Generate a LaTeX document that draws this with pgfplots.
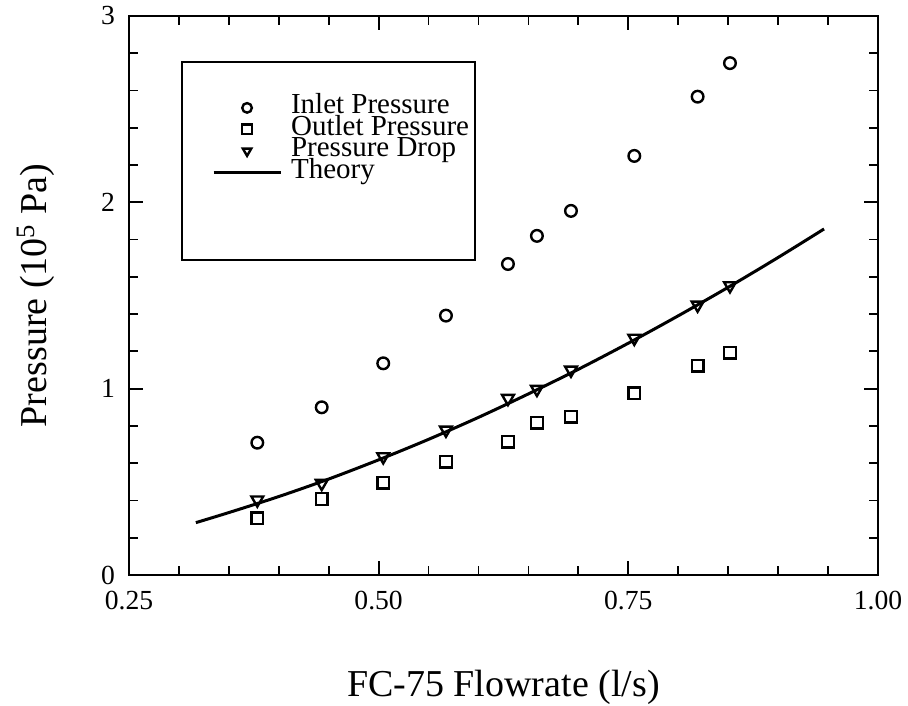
\documentclass[border=0pt]{standalone}
\usepackage{pgfplots}
\pgfplotsset{compat=1.18}
\usepackage{fontspec}
\setmainfont{Liberation Serif}

% measured pressures versus flow rate
\pgfplotstableread{
q      pin    pout   dp
0.3785 0.710  0.304  0.403
0.4430 0.900  0.408  0.492
0.5046 1.136  0.495  0.635
0.5674 1.392  0.608  0.778
0.6295 1.669  0.716  0.948
0.6585 1.820  0.817  0.997
0.6926 1.954  0.850  1.100
0.7560 2.249  0.975  1.271
0.8194 2.567  1.123  1.449
0.8518 2.747  1.193  1.553
}\measured

% predicted pressure drop
\pgfplotstableread{
q      dp
0.317  0.281
0.350  0.335
0.400  0.421
0.450  0.515
0.500  0.618
0.550  0.728
0.600  0.846
0.650  0.972
0.700  1.104
0.750  1.244
0.800  1.391
0.850  1.544
0.900  1.704
0.946  1.857
}\theory

\pgfplotsset{
  % key sample for the curve
  lgline/.style={legend image code/.code={
    \draw[##1] (0pt,0pt) -- (33.5pt,0pt);}},
  % key sample for a marker series: the marker alone, centred
  lgmark/.style={legend image code/.code={
    \draw[mark repeat=2,mark phase=2,##1,draw=none,mark size=2.4pt]
      plot coordinates {(0pt,0pt) (16.75pt,0pt) (33.5pt,0pt)};}},
  % open markers only, no connecting line
  markonly/.style={draw=none, mark options={draw=black, fill=none, line width=1.2pt, #1}},
}

\begin{document}
\begin{tikzpicture}
\begin{axis}[
  scale only axis, width=374.5pt, height=279.5pt,
  xmin=0.25, xmax=1.00, ymin=0, ymax=3,
  xtick={0.25,0.5,0.75,1.0}, xticklabels={0.25,0.50,0.75,1.00},
  ytick={0,1,2,3}, yticklabels={0,1,2,3},
  minor x tick num=4, minor y tick num=4,
  tick align=inside,
  major tick length=7pt, minor tick length=4.5pt,
  axis line style={line width=1.2pt},
  every tick/.style={black, line width=0.9pt},
  ticklabel style={font=\fontsize{13.8}{16}\selectfont},
  xticklabel shift=4.5pt, yticklabel shift=3.5pt,
  xlabel={FC-75 Flowrate (l/s)},
  ylabel={Pressure (10\textsuperscript{5} Pa)},
  label style={font=\fontsize{19}{22}\selectfont},
  xlabel style={at={(axis description cs:0.5,-0.2182)}, anchor=base},
  ylabel style={at={(axis description cs:-0.1099,0.5)}, anchor=base},
  legend cell align=left,
  legend style={draw=none, fill=none, at={(axis cs:0.3328,2.567)},
    anchor=north west, inner sep=0pt, row sep=0pt, column sep=0pt,
    font=\fontsize{14.5}{16}\selectfont,
    nodes={inner xsep=4.5pt, inner ysep=0pt, text height=8.3pt,
      text depth=2.5pt}},
]
\addplot[mark=o, mark size=2.9pt, markonly, lgmark]
  table[x=q, y=pin] {\measured};
\addlegendentry{Inlet Pressure}
\addplot[mark=square, mark size=2.9pt, markonly, lgmark]
  table[x=q, y=pout] {\measured};
\addlegendentry{Outlet Pressure}
\addplot[mark=triangle, mark size=3.4pt, markonly={rotate=180}, lgmark]
  table[x=q, y=dp] {\measured};
\addlegendentry{Pressure Drop}
\addplot[line width=1.5pt, smooth, no marks, lgline]
  table[x=q, y=dp] {\theory};
\addlegendentry{Theory}

% frame around the key
\draw[line width=1pt] (axis cs:0.303,2.754) rectangle (axis cs:0.596,1.691);

\coordinate (bbsw) at (rel axis cs:-0.1722,-0.2343);
\coordinate (bbne) at (rel axis cs:1.0401,1.0286);
\end{axis}
\pgfresetboundingbox
\path[use as bounding box] (bbsw) rectangle (bbne);
\end{tikzpicture}
\end{document}
